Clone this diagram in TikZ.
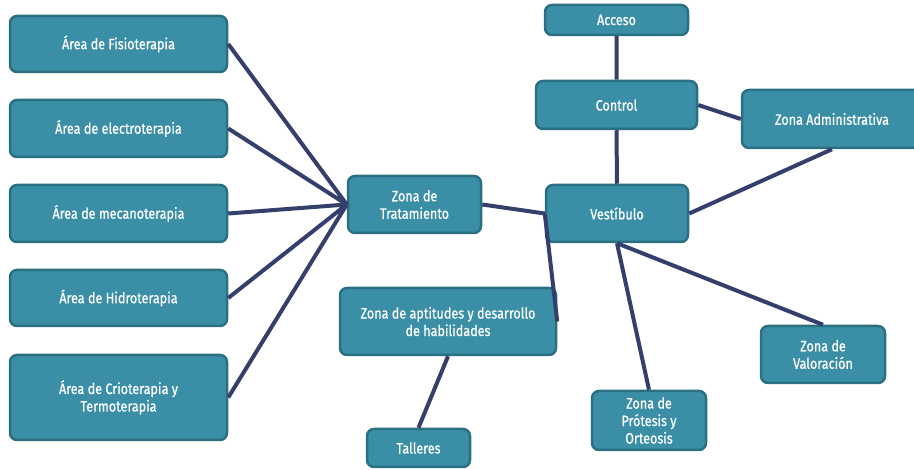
\documentclass[tikz,border=0pt]{standalone}
\usepackage{fontspec}
\setmainfont[FakeStretch=0.84,FakeBold=0.6]{Fira Sans}
\usepackage{tikz}
\usetikzlibrary{positioning}
\definecolor{zonafill}{HTML}{3A8FA6}
\definecolor{zonaborde}{HTML}{2B6F82}
\definecolor{enlace}{HTML}{353F6C}
\tikzset{
    x=1pt, y=-1pt, % one unit per pixel of the plan
    zona/.style={rectangle, rounded corners=7pt, fill=zonafill, draw=zonaborde, line width=2.5pt,
        text=white, align=center, font=\fontsize{15}{17.5}\selectfont}, % every area of the plan
    enlace/.style={draw=enlace, line width=4pt}, % the lines between areas
    }

\begin{document}
\begin{tikzpicture}
            \useasboundingbox (0,0) rectangle (914,470);
            % therapy areas on the left
            \node[zona, minimum width=217pt, minimum height=56pt] (fisio) at (118.5,44) {Área de Fisioterapia};
            \node[zona, minimum width=217pt, minimum height=57pt] (electro) at (118.5,128.5) {Área de electroterapia};
            \node[zona, minimum width=217pt, minimum height=57pt] (mecano) at (118.5,213.5) {Área de mecanoterapia};
            \node[zona, minimum width=217pt, minimum height=56pt] (hidro) at (118.5,298) {Área de Hidroterapia};
            \node[zona, minimum width=217pt, minimum height=85pt] (crio) at (118.5,397.5) {Área de Crioterapia y\\Termoterapia};
            % central zones
            \node[zona, minimum width=133pt, minimum height=57pt] (trat) at (414.5,204.5) {Zona  de\\Tratamiento};
            \node[zona, minimum width=142pt, minimum height=57pt] (vest) at (617,213.5) {Vestíbulo};
            \node[zona, minimum width=143pt, minimum height=30pt] (acceso) at (616.5,20) {Acceso};
            \node[zona, minimum width=161pt, minimum height=48pt] (control) at (616.5,105) {Control};
            \node[zona, minimum width=180pt, minimum height=58pt] (admin) at (832,119) {Zona Administrativa};
            \node[zona, minimum width=216pt, minimum height=67pt] (aptitud) at (448,321.5) {Zona  de aptitudes y desarrollo\\de habilidades};
            \node[zona, minimum width=103pt, minimum height=38pt] (talleres) at (418.5,448) {Talleres};
            \node[zona, minimum width=114pt, minimum height=59pt] (protesis) at (649,420.5) {Zona  de\\Prótesis y\\Orteosis};
            \node[zona, minimum width=124pt, minimum height=57pt] (valor) at (823,354.5) {Zona  de\\Valoración};
            % connections
            \draw[enlace] (fisio.east) -- (trat.west)
            (electro.east) -- (trat.west)
            (mecano.east) -- (trat.west)
            (hidro.east) -- (trat.west)
            (crio.east) -- (trat.west)
            (trat.east) -- (vest.west)
            (vest.west) -- (aptitud.east)
            (aptitud.south) -- (talleres.north)
            (acceso.south) -- (control.north)
            (control.south) -- (vest.north)
            (control.east) -- (admin.west)
            (admin.south) -- (vest.east)
            (vest.south) -- (protesis.north)
            (vest.south) -- (valor.north);
\end{tikzpicture}
\end{document}
